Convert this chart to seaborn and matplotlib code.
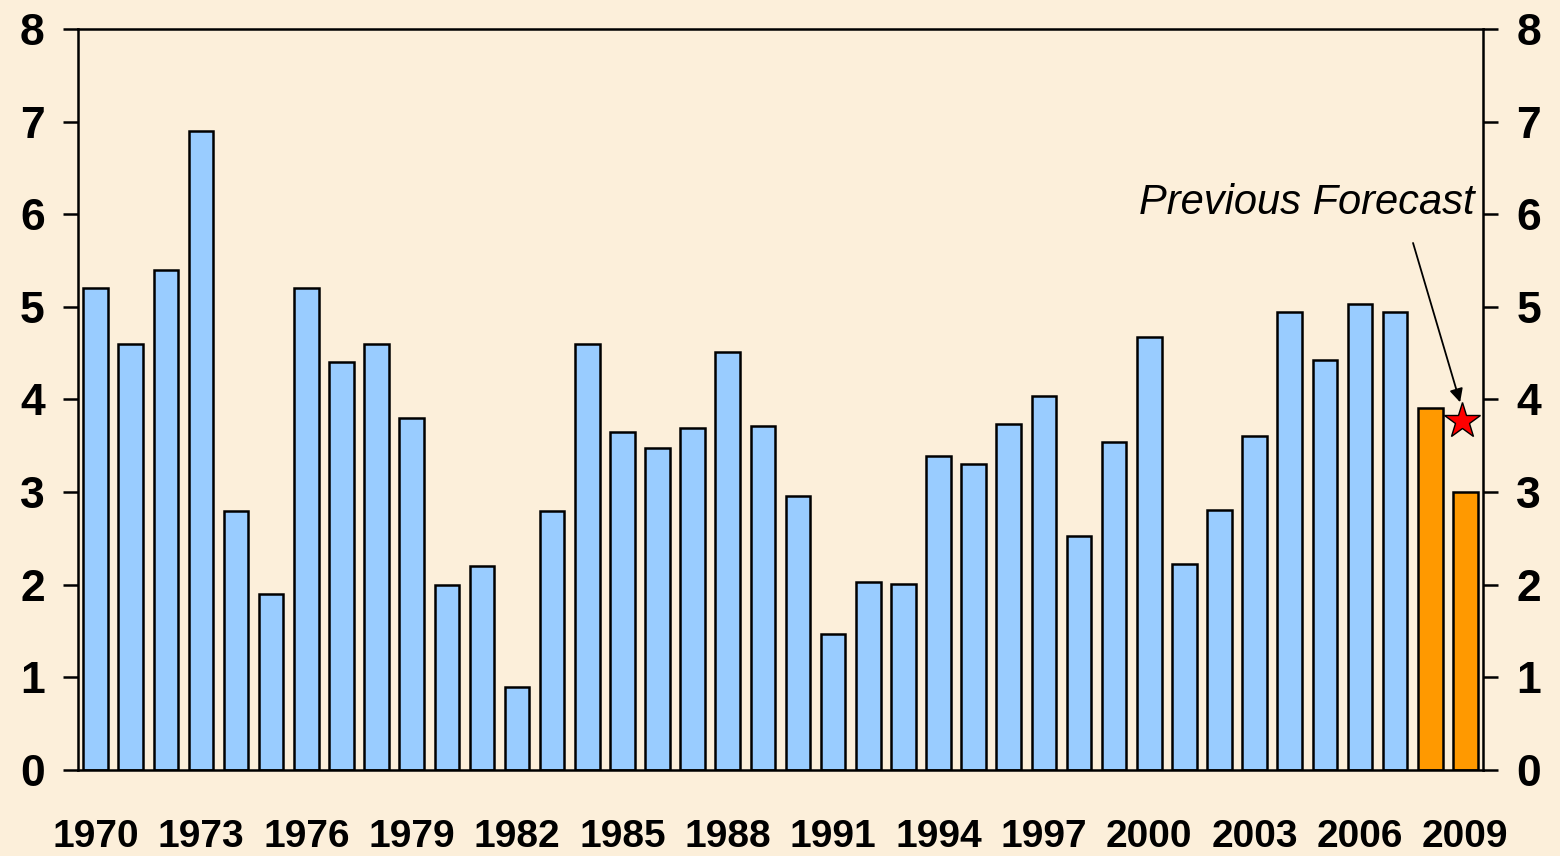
import numpy as np
import pandas as pd
import seaborn as sns
import matplotlib.pyplot as plt

years = list(range(1970, 2010))
growth = [5.2, 4.6, 5.4, 6.9, 2.8, 1.9, 5.2, 4.4, 4.6, 3.8,
          2.0, 2.2, 0.9, 2.8, 4.6, 3.65, 3.48, 3.69, 4.51, 3.71,
          2.96, 1.47, 2.03, 2.01, 3.39, 3.30, 3.74, 4.04, 2.53, 3.54,
          4.68, 2.22, 2.81, 3.61, 4.94, 4.43, 5.03, 4.94, 3.91, 3.0]
kind = ["actual"] * 38 + ["forecast"] * 2
prev_forecast_year = 2009
prev_forecast_value = 3.77

df = pd.DataFrame({"year": years, "growth": growth, "kind": kind})

sns.set_style("white")
plt.rcParams["font.family"] = ["Liberation Sans", "DejaVu Sans"]
plt.rcParams["text.color"] = "black"
plt.rcParams["xtick.color"] = "black"
plt.rcParams["ytick.color"] = "black"

fig = plt.figure(figsize=(15.6, 8.56), dpi=100)
fig.patch.set_facecolor("#FCEFDA")
ax = fig.add_axes([0.05, 0.1005, 0.9006, 0.8656])
ax.set_facecolor("#FCEFDA")

sns.barplot(data=df, x="year", y="growth", hue="kind",
            palette={"actual": "#99CCFF", "forecast": "#FF9900"},
            saturation=1, dodge=False, width=0.7, edgecolor="black",
            linewidth=1.8, legend=False, ax=ax)

# star for previous forecast
idx = years.index(prev_forecast_year)
ax.plot(idx - 0.1, prev_forecast_value, marker="*", markersize=27,
        color="red", markeredgecolor="black", markeredgewidth=1.0, zorder=5)
ax.text(idx + 0.27, 6.0, "Previous Forecast", ha="right", va="baseline",
        fontsize=30, fontstyle="italic")
ax.annotate("", xy=(idx - 0.15, prev_forecast_value + 0.2),
            xytext=(idx - 1.49, 5.69),
            arrowprops=dict(arrowstyle="-|>", color="black", lw=1.3,
                            mutation_scale=20, shrinkA=0, shrinkB=0))

ax.set_xlim(-0.5, len(years) - 0.5)
ax.set_ylim(0, 8)
ax.set_xlabel("")
ax.set_ylabel("")

# x ticks: labels every 3 years, marks between bars
ax.set_xticks(range(0, len(years), 3))
ax.set_xticklabels([str(y) for y in years[::3]], fontsize=28, fontweight="bold")
ax.set_xticks(np.arange(-0.5, len(years), 1.0), minor=True)
ax.tick_params(axis="x", which="major", length=0, pad=35)
ax.tick_params(axis="x", which="minor", length=11, width=1.8, direction="out")

ax.set_yticks(range(0, 9))
ax.set_yticklabels([str(v) for v in range(0, 9)], fontsize=32, fontweight="bold")
ax.tick_params(axis="y", which="major", length=11, width=1.8, direction="out",
               left=True, right=True, labelleft=True, labelright=True, pad=13)

for side in ["left", "right", "top", "bottom"]:
    ax.spines[side].set_visible(True)
    ax.spines[side].set_color("black")
    ax.spines[side].set_linewidth(1.8)

fig.savefig("out.png", dpi=100, facecolor=fig.get_facecolor())
